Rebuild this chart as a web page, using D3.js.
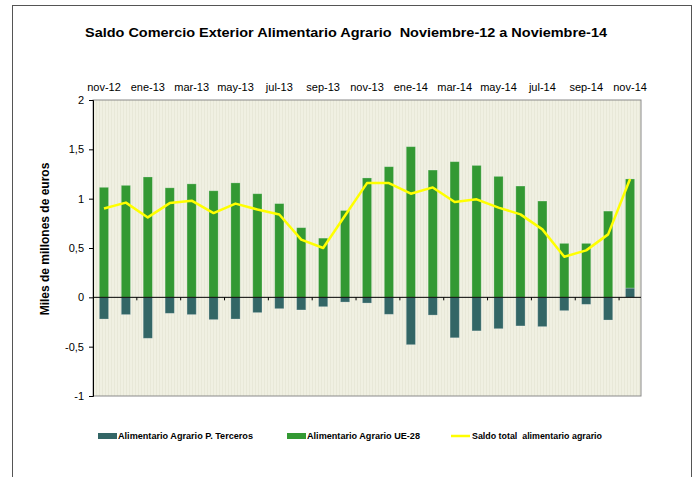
<!DOCTYPE html>
<html>
<head>
<meta charset="utf-8">
<script src="https://cdn.jsdelivr.net/npm/d3@7"></script>
<style>
  body { margin: 0; background: #fff; }
  svg { display: block; font-family: Arial, "Liberation Sans", sans-serif; }
</style>
</head>
<body>
<div id="chart"></div>
<script>
// months nov-12 .. nov-14
var months = ['nov-12','dic-12','ene-13','feb-13','mar-13','abr-13','may-13','jun-13','jul-13','ago-13','sep-13','oct-13',
  'nov-13','dic-13','ene-14','feb-14','mar-14','abr-14','may-14','jun-14','jul-14','ago-14','sep-14','oct-14','nov-14']
var terceros = [-0.22,-0.175,-0.415,-0.162,-0.175,-0.226,-0.22,-0.155,-0.115,-0.128,-0.095,-0.048,
  -0.058,-0.172,-0.48,-0.18,-0.41,-0.34,-0.318,-0.29,-0.297,-0.135,-0.071,-0.23,0.094]
var ue28 = [1.115,1.135,1.22,1.11,1.15,1.08,1.16,1.05,0.95,0.706,0.60,0.88,
  1.21,1.324,1.527,1.29,1.375,1.337,1.226,1.128,0.976,0.547,0.547,0.874,1.106]
var saldo = [0.90,0.96,0.81,0.955,0.98,0.854,0.95,0.89,0.84,0.585,0.50,0.83,
  1.158,1.158,1.05,1.114,0.966,0.993,0.909,0.841,0.689,0.412,0.476,0.638,1.20]
var yTicks = [-1,-0.5,0,0.5,1,1.5,2]
var seriesNames = ['Alimentario Agrario P. Terceros','Alimentario Agrario UE-28','Saldo total  alimentario agrario']

var W = 696, H = 477
var mLeft = 93, mRight = 641, mTop = 100, mBottom = 396

var svg = d3.select('#chart').append('svg').attr('width', W).attr('height', H)

// outer frame
svg.append('rect').attr('x', 12.5).attr('y', 5.5).attr('width', 679).attr('height', 500)
  .attr('fill', 'none').attr('stroke', '#555').attr('stroke-width', 1)

// title (source font is a bit wider than Arial, so stretch it)
svg.append('text')
  .attr('x', 85).attr('y', 37)
  .attr('font-size', 13).attr('font-weight', 'bold')
  .attr('textLength', 522).attr('lengthAdjust', 'spacingAndGlyphs')
  .style('white-space', 'pre')
  .text('Saldo Comercio Exterior Alimentario Agrario  Noviembre-12 a Noviembre-14')

var x = d3.scaleBand().domain(months).range([mLeft, mRight])
var y = d3.scaleLinear().domain([-1, 2]).range([mBottom, mTop])
var bw = x.bandwidth() * 0.42

// plot background with faint vertical stripes
var defs = svg.append('defs')
var pat = defs.append('pattern').attr('id', 'stripes').attr('patternUnits', 'userSpaceOnUse')
  .attr('width', 3).attr('height', 10)
pat.append('rect').attr('width', 3).attr('height', 10).attr('fill', '#f0f0e2')
pat.append('rect').attr('width', 1).attr('height', 10).attr('fill', '#e8e8d8')

svg.append('rect').attr('x', mLeft).attr('y', mTop).attr('width', mRight - mLeft).attr('height', mBottom - mTop)
  .attr('fill', 'url(#stripes)').attr('stroke', '#8a8a8a').attr('stroke-width', 1)

// stacked bars
var rows = months.map((m, i) => ({ month: m, terceros: terceros[i], ue: ue28[i] }))
var stack = d3.stack().keys(['terceros', 'ue']).offset(d3.stackOffsetDiverging)
var layers = stack(rows)
var colors = { terceros: '#336666', ue: '#339933' }

svg.append('g').selectAll('g')
  .data(layers)
  .enter().append('g')
  .attr('fill', d => colors[d.key])
  .selectAll('rect')
  .data(d => d)
  .enter().append('rect')
  .attr('x', d => x(d.data.month) + x.bandwidth() / 2 - bw / 2)
  .attr('y', d => y(Math.max(d[0], d[1])))
  .attr('width', bw)
  .attr('height', d => Math.abs(y(d[0]) - y(d[1])))
  .attr('stroke', 'rgba(255,255,255,0.3)')
  .attr('stroke-width', 0.8)

// zero line + category ticks
svg.append('line').attr('x1', mLeft).attr('x2', mRight).attr('y1', y(0)).attr('y2', y(0))
  .attr('stroke', '#000').attr('stroke-width', 1)
svg.append('g').selectAll('line')
  .data(months.filter((m, i) => i > 0 && i % 2 == 0))
  .enter().append('line')
  .attr('x1', d => x(d)).attr('x2', d => x(d))
  .attr('y1', y(0)).attr('y2', y(0) + 3)
  .attr('stroke', '#000')

// saldo line
var line = d3.line()
  .x((d, i) => x(months[i]) + x.bandwidth() / 2)
  .y(d => y(d))
svg.append('path').datum(saldo)
  .attr('d', line)
  .attr('fill', 'none').attr('stroke', '#ffff00').attr('stroke-width', 2.5)
  .attr('stroke-linejoin', 'round')

// y axis
var yAxis = d3.axisLeft(y).tickValues(yTicks).tickSize(4)
  .tickFormat(d => String(d).replace('.', ','))
var ya = svg.append('g').attr('transform', `translate(${mLeft},0)`).call(yAxis)
ya.select('.domain').attr('stroke', '#000')
ya.selectAll('text').attr('font-size', 11).attr('font-family', 'Arial, "Liberation Sans", sans-serif').attr('fill', '#000').attr('dx', -2)

// x labels on top
var xAxis = d3.axisTop(x).tickValues(months.filter((m, i) => i % 2 == 0)).tickSize(0).tickPadding(0)
var xa = svg.append('g').attr('transform', `translate(0,${mTop - 9})`).call(xAxis)
xa.select('.domain').remove()
xa.selectAll('text').attr('font-size', 11).attr('font-family', 'Arial, "Liberation Sans", sans-serif').attr('fill', '#000')

// y title
svg.append('text')
  .attr('transform', 'translate(49,239) rotate(-90)')
  .attr('text-anchor', 'middle')
  .attr('font-size', 12).attr('font-weight', 'bold')
  .text('Miles de millones de euros')

// legend
var legend = svg.append('g').attr('font-size', 8.5).attr('font-weight', 'bold')
var lx = [98, 287, 451]
var lw = [135, 113, 130]
legend.append('rect').attr('x', lx[0]).attr('y', 433).attr('width', 19).attr('height', 6).attr('fill', colors.terceros)
legend.append('rect').attr('x', lx[1]).attr('y', 433).attr('width', 19).attr('height', 6).attr('fill', colors.ue)
legend.append('line').attr('x1', lx[2]).attr('x2', lx[2] + 19).attr('y1', 436).attr('y2', 436)
  .attr('stroke', '#ffff00').attr('stroke-width', 2.5)
legend.selectAll('text').data(seriesNames).enter().append('text')
  .attr('x', (d, i) => lx[i] + (i == 2 ? 21 : 20))
  .attr('y', 439)
  .attr('textLength', (d, i) => lw[i]).attr('lengthAdjust', 'spacingAndGlyphs')
  .style('white-space', 'pre')
  .text(d => d)
</script>
</body>
</html>
